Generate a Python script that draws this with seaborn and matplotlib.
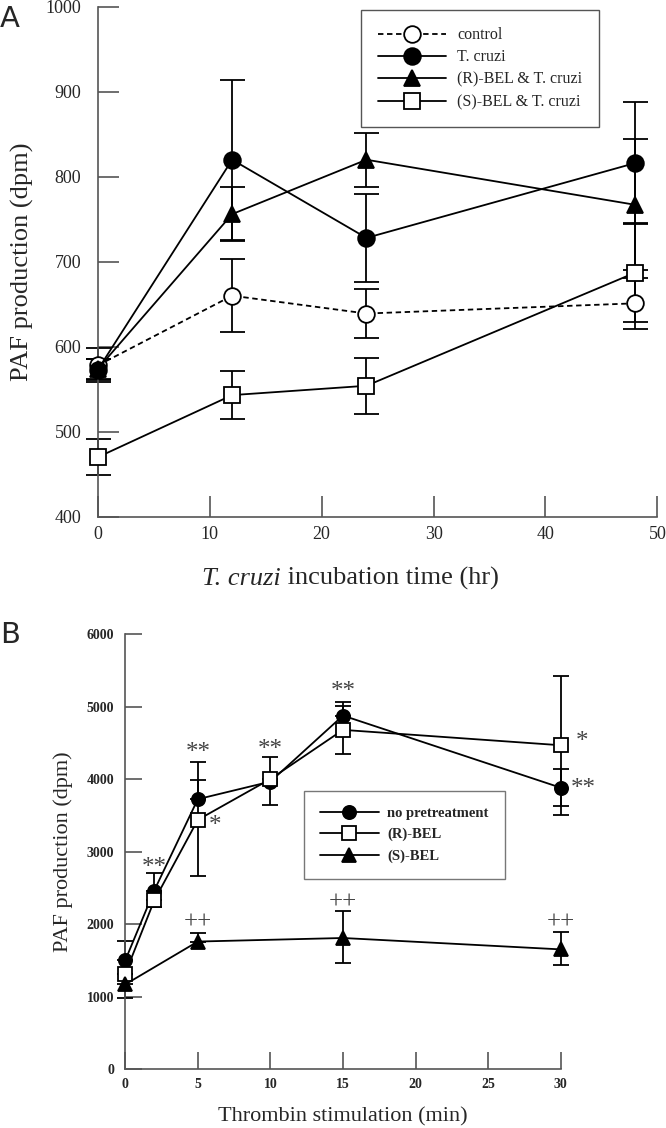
import matplotlib
matplotlib.use("Agg")
import matplotlib.pyplot as plt
import numpy as np
import pandas as pd
import seaborn as sns

# ---- Panel A data ----
a_time = [0, 12, 24, 48]
a_labels = ["control", "T. cruzi", "(R)-BEL & T. cruzi", "(S)-BEL & T. cruzi"]
a_control = [578, 660, 639, 651]
a_control_err = [20, 43, 29, 30]
a_tcruzi = [573, 820, 728, 816]
a_tcruzi_err = [12, 94, 52, 72]
a_rbel = [574, 756, 820, 767]
a_rbel_err = [12, 32, 32, 77]
a_sbel = [470, 543, 554, 687]
a_sbel_err = [21, 28, 33, 58]

# ---- Panel B data ----
b_labels = ["no pretreatment", "(R)-BEL", "(S)-BEL"]
b_none_t = [0, 2, 5, 10, 15, 30]
b_none = [1500, 2464, 3723, 3965, 4875, 3881]
b_none_lo = [0, 0, 0, 325, 0, 256]
b_none_hi = [270, 240, 507, 334, 182, 256]
b_rbel_t = [0, 2, 5, 10, 15, 30]
b_rbel = [1318, 2327, 3438, 4000, 4678, 4466]
b_rbel_lo = [0, 90, 777, 0, 335, 960]
b_rbel_hi = [0, 0, 551, 0, 335, 960]
b_sbel_t = [0, 5, 15, 30]
b_sbel = [1170, 1761, 1810, 1653]
b_sbel_lo = [186, 0, 344, 217]
b_sbel_hi = [0, 123, 369, 246]

# significance marks (text, x, y)
b_marks = ["**", "**", "**", "**", "*", "*", "**", "++", "++", "++"]
b_marks_x = [2, 5, 10, 15, 5.75, 31.0, 30.7, 5, 15, 30]
b_marks_y = [2780, 4360, 4400, 5200, 3360, 4510, 3860, 2020, 2300, 2020]

sns.set_style("ticks")
plt.rcParams["font.family"] = ["Liberation Serif", "DejaVu Serif"]

axis_col = "#555555"

fig = plt.figure(figsize=(6.66, 11.28), dpi=100)
axA = fig.add_axes([0.147, 0.542, 0.840, 0.452])
axB = fig.add_axes([0.188, 0.052, 0.654, 0.386])


def style_axes(ax, ticklen, fs, bold=False, pad_y=10, pad_x=6):
    sns.despine(ax=ax)
    for s in ["left", "bottom"]:
        ax.spines[s].set_color(axis_col)
        ax.spines[s].set_linewidth(1.2)
    ax.tick_params(axis="both", direction="in", length=ticklen, width=1.2,
                   color=axis_col, labelsize=fs)
    ax.tick_params(axis="y", pad=pad_y)
    ax.tick_params(axis="x", pad=pad_x)
    if bold:
        for lab in ax.get_xticklabels() + ax.get_yticklabels():
            lab.set_fontweight("bold")


def draw_series(ax, x, y, lo, hi, label, marker, mfc, ls, ms, cap):
    df = pd.DataFrame({"x": x, "y": y})
    sns.lineplot(data=df, x="x", y="y", ax=ax, color="black", linestyle=ls,
                 marker=marker, markersize=ms, markerfacecolor=mfc,
                 markeredgecolor="black", markeredgewidth=1.3, linewidth=1.3,
                 label=label, clip_on=False, zorder=3)
    eb = ax.errorbar(x, y, yerr=[lo, hi], fmt="none", ecolor="black",
                     elinewidth=1.3, capsize=cap, capthick=1.3, zorder=2)
    for art in eb.lines[1] + eb.lines[2]:
        art.set_clip_on(False)


# ---- Panel A ----
draw_series(axA, a_time, a_control, a_control_err, a_control_err, a_labels[0], "o", "white", (0, (3, 2)), 12, 9)
draw_series(axA, a_time, a_tcruzi, a_tcruzi_err, a_tcruzi_err, a_labels[1], "o", "black", "-", 12, 9)
draw_series(axA, a_time, a_rbel, a_rbel_err, a_rbel_err, a_labels[2], "^", "black", "-", 11, 9)
draw_series(axA, a_time, a_sbel, a_sbel_err, a_sbel_err, a_labels[3], "s", "white", "-", 12, 9)

axA.set_xlim(0, 50)
axA.set_ylim(400, 1000)
axA.set_xticks(range(0, 51, 10))
axA.set_yticks(range(400, 1001, 100))
style_axes(axA, 15, 13, pad_y=12, pad_x=7)
axA.set_xlabel("")
axA.set_ylabel("PAF production (dpm)", fontsize=19, labelpad=8)

# x label: italic species name followed by plain text
lab1 = fig.text(0.303, 0.481, "T. cruzi", fontsize=19, style="italic",
                ha="left", va="baseline")
axA.annotate(" incubation time (hr)", xy=(1, 0), xycoords=lab1,
             fontsize=19, ha="left", va="bottom", annotation_clip=False)

legA = axA.legend(loc="upper left", bbox_to_anchor=(0.470, 0.993), fontsize=11.5,
                  handlelength=4.3, frameon=True, fancybox=False,
                  edgecolor=axis_col, borderpad=1.05, labelspacing=0.4,
                  handletextpad=0.7, borderaxespad=0)
legA.get_frame().set_linewidth(1.0)
legA.get_frame().set_alpha(1)
legA.set_zorder(5)
fig.text(0.0, 0.983, "A", fontsize=21, family="DejaVu Sans", va="center", ha="left")

# ---- Panel B ----
draw_series(axB, b_none_t, b_none, b_none_lo, b_none_hi, b_labels[0], "o", "black", "-", 9.5, 6)
draw_series(axB, b_rbel_t, b_rbel, b_rbel_lo, b_rbel_hi, b_labels[1], "s", "white", "-", 9.5, 6)
draw_series(axB, b_sbel_t, b_sbel, b_sbel_lo, b_sbel_hi, b_labels[2], "^", "black", "-", 9.5, 6)

for t, x, y in zip(b_marks, b_marks_x, b_marks_y):
    ha = "left" if x > 30.5 or x == 5.75 else "center"
    axB.text(x, y, t, ha=ha, va="center", fontsize=18, color="#444444")

axB.set_xlim(0, 30)
axB.set_ylim(0, 6000)
axB.set_xticks(range(0, 31, 5))
axB.set_yticks(range(0, 6001, 1000))
style_axes(axB, 12, 10, bold=True, pad_y=8, pad_x=6)
axB.set_xlabel("Thrombin stimulation (min)", fontsize=16, labelpad=12)
axB.set_ylabel("PAF production (dpm)", fontsize=16, labelpad=10)
legB = axB.legend(loc="upper left", bbox_to_anchor=(0.411, 0.64),
                  handlelength=4.0, frameon=True, fancybox=False,
                  edgecolor=axis_col, borderpad=1.1, labelspacing=0.55,
                  handletextpad=0.6, borderaxespad=0,
                  prop={"weight": "bold", "size": 10.5})
legB.get_frame().set_linewidth(1.0)
fig.text(0.0, 0.437, "B", fontsize=21, family="DejaVu Sans", va="center", ha="left")

fig.savefig("out.png", dpi=100)
